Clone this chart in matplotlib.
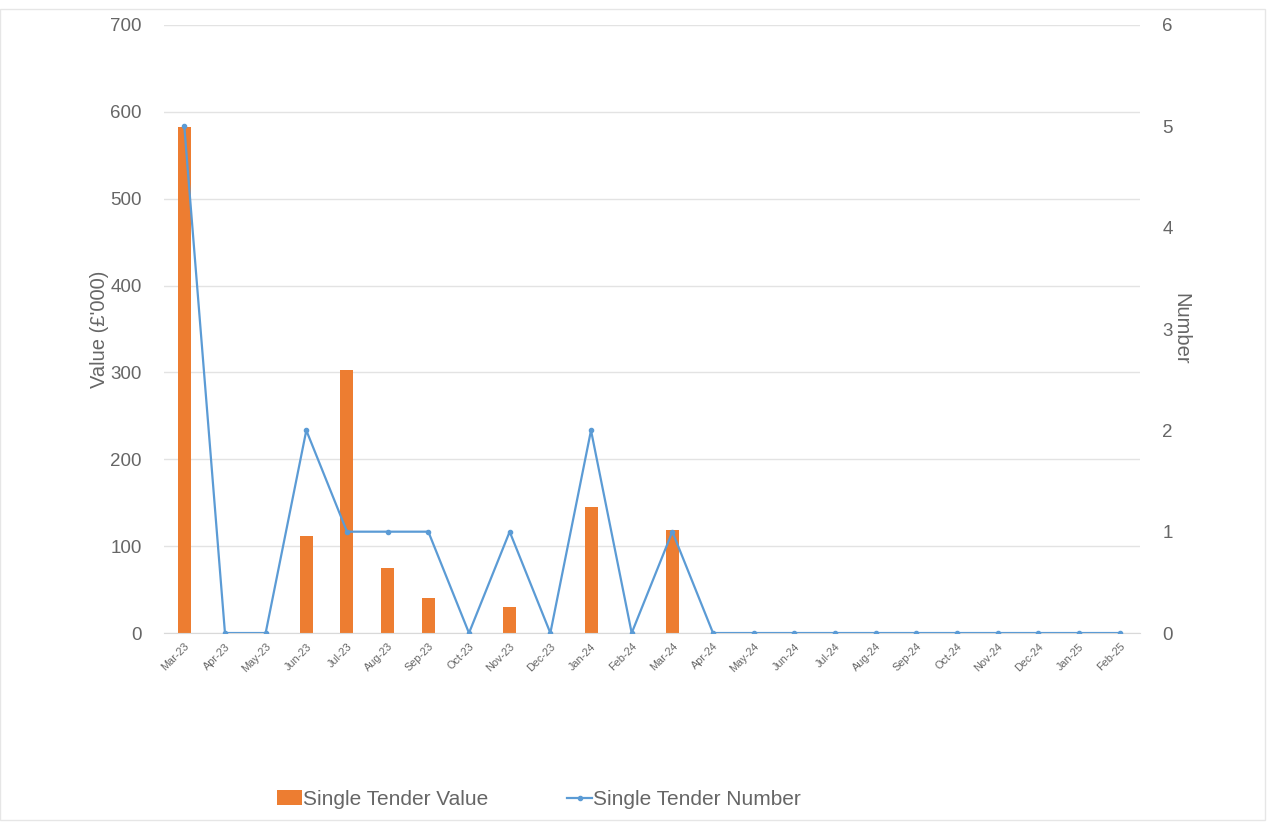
import numpy as np
import matplotlib.pyplot as plt
from matplotlib.patches import Rectangle

plt.rcParams['font.family'] = ['Liberation Sans', 'DejaVu Sans']

months = ['Mar-23', 'Apr-23', 'May-23', 'Jun-23', 'Jul-23', 'Aug-23', 'Sep-23', 'Oct-23',
          'Nov-23', 'Dec-23', 'Jan-24', 'Feb-24', 'Mar-24', 'Apr-24', 'May-24', 'Jun-24',
          'Jul-24', 'Aug-24', 'Sep-24', 'Oct-24', 'Nov-24', 'Dec-24', 'Jan-25', 'Feb-25']
tender_value = [583, 0, 0, 112, 303, 75, 40, 0, 30, 0, 145, 0, 119, 0,
                0, 0, 0, 0, 0, 0, 0, 0, 0, 0]
tender_number = [5, 0, 0, 2, 1, 1, 1, 0, 1, 0, 2, 0, 1, 0,
                 0, 0, 0, 0, 0, 0, 0, 0, 0, 0]

orange = '#ED7D31'
blue = '#5B9BD5'
txt = '#666666'

fig = plt.figure(figsize=(12.71, 8.25), dpi=100)
ax = fig.add_axes([0.129, 0.2327, 0.768, 0.737])
ax2 = ax.twinx()

x = np.arange(len(months))
ax.bar(x, tender_value, width=0.32, color=orange, zorder=2, label='Single Tender Value')
ax2.plot(x, tender_number, color=blue, lw=1.6, marker='o', ms=3, zorder=3,
         label='Single Tender Number')

ax.set_xlim(-0.5, len(months) - 0.5)
ax.set_ylim(0, 700)
ax2.set_ylim(0, 6)
ax.set_yticks(range(0, 701, 100))
ax2.set_yticks(range(0, 7))
ax.grid(axis='y', color='#E3E3E3', lw=1, zorder=0)
ax.set_axisbelow(True)

for a in (ax, ax2):
    for s in a.spines.values():
        s.set_visible(False)
    a.tick_params(length=0, labelsize=13.5, colors=txt)
ax.spines['bottom'].set_visible(True)
ax.spines['bottom'].set_color('#D9D9D9')

ax.set_xticks(x)
ax.set_xticklabels(months, rotation=45, ha='right', rotation_mode='anchor', fontsize=7.8)
ax.tick_params(axis='x', pad=6)
ax.tick_params(axis='y', pad=16)
ax2.tick_params(axis='y', pad=16)

ax.set_ylabel("Value (£'000)", fontsize=14.5, color=txt, labelpad=1)
ax2.set_ylabel('Number', fontsize=14.5, color=txt, rotation=270, labelpad=13)

h1, l1 = ax.get_legend_handles_labels()
h2, l2 = ax2.get_legend_handles_labels()
fig.legend(h1 + h2, l1 + l2, loc='center', bbox_to_anchor=(0.424, 0.031), ncol=2,
           frameon=False, fontsize=15, labelcolor=txt, handlelength=1.2,
           handletextpad=0.05, columnspacing=3.8)

fig.patches.append(Rectangle((0.0, 0.006), 0.995, 0.983, transform=fig.transFigure,
                             fill=False, edgecolor='#E6E6E6', lw=1))

fig.savefig('out.png', dpi=100)
